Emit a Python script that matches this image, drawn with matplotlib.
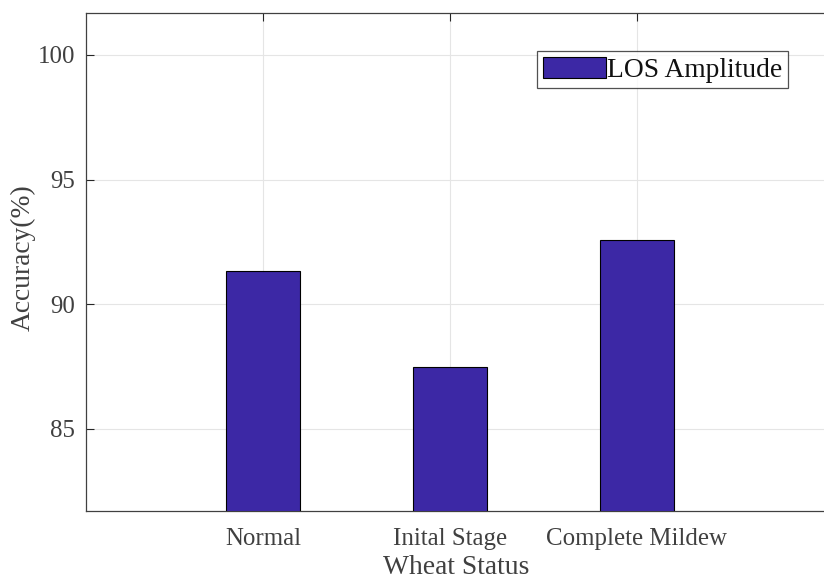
import matplotlib.pyplot as plt

categories = ["Normal", "Inital Stage", "Complete Mildew"]
accuracy = [91.33, 87.50, 92.58]
series_name = "LOS Amplitude"
yticks = [85, 90, 95, 100]

plt.rcParams['font.family'] = ['Liberation Serif', 'DejaVu Serif']
plt.rcParams['font.size'] = 17.9

bar_color = '#3C28A5'
label_size = 19.8

W, H = 824, 579
fig = plt.figure(figsize=(W / 100, H / 100), dpi=100)
left, right, top, bottom = 86, 826, 13, 511
ax = fig.add_axes([left / W, (H - bottom) / H, (right - left) / W, (bottom - top) / H])

x = list(range(1, len(categories) + 1))
ax.bar(x, accuracy, width=0.4, color=bar_color, edgecolor='black', linewidth=0.8,
       label=series_name, zorder=3)

ax.set_xlim(0.0535, 4.011)
ax.set_ylim(81.71, 101.68)
ax.set_xticks(x)
ax.set_xticklabels(categories)
ax.set_yticks(yticks)

ax.grid(True, color='#e5e5e5', linewidth=0.8, zorder=0)
ax.set_axisbelow(True)

for side in ['left', 'top', 'bottom']:
    ax.spines[side].set_color('#404040')
    ax.spines[side].set_linewidth(0.9)
ax.spines['right'].set_visible(False)

ax.tick_params(axis='both', direction='in', length=6, width=0.8, colors='#262626',
               labelcolor='#404040', top=True, right=False, pad=8)
ax.tick_params(axis='x', pad=12)

ax.set_xlabel("Wheat Status", color='#404040', fontsize=label_size, labelpad=3.5)
ax.set_ylabel("Accuracy(%)", color='#404040', fontsize=label_size)
ax.yaxis.set_label_coords(-0.0676, 0.508)

leg = ax.legend(loc='upper left', bbox_to_anchor=((537 - left) / (right - left), 1 - (51 - top) / (bottom - top)),
                frameon=True, fancybox=False, handlelength=2.3, handleheight=0.85,
                handletextpad=0.05, borderpad=0.2, borderaxespad=0, fontsize=label_size)
leg.get_frame().set_edgecolor('#262626')
leg.get_frame().set_linewidth(0.9)
for t in leg.get_texts():
    t.set_color('#111111')

fig.savefig('out.png', dpi=100)
